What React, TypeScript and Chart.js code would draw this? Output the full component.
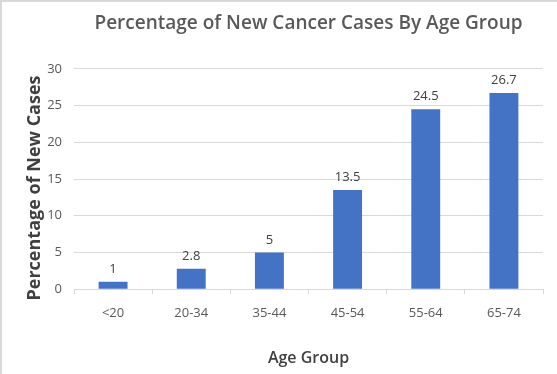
import React, { useEffect, useRef } from "react";
import { Chart, registerables } from "chart.js";

Chart.register(...registerables);

const categories = ["<20", "20-34", "35-44", "45-54", "55-64", "65-74"];
const values = [1, 2.8, 5, 13.5, 24.5, 26.7];
const yTicks = [0, 5, 10, 15, 20, 25, 30];
const yTitle = "Percentage of New Cases";

const FONT = "'Open Sans', 'DejaVu Sans', sans-serif";

const valueLabels = {
  id: "valueLabels",
  afterDatasetsDraw(chart: any) {
    const ctx = chart.ctx;
    const meta = chart.getDatasetMeta(0);
    ctx.save();
    ctx.font = `13px ${FONT}`;
    ctx.fillStyle = "#404040";
    ctx.textAlign = "center";
    ctx.textBaseline = "bottom";
    meta.data.forEach((bar: any, i: number) => {
      ctx.fillText(String(values[i]), bar.x, bar.y - 6);
    });
    ctx.restore();
  },
};

const yTitlePlugin = {
  id: "yTitlePlugin",
  afterDraw(chart: any) {
    const ctx = chart.ctx;
    const area = chart.chartArea;
    ctx.save();
    ctx.translate(33, (area.top + area.bottom) / 2 + 9);
    ctx.rotate(-Math.PI / 2);
    ctx.font = `bold 18px ${FONT}`;
    ctx.fillStyle = "#404040";
    ctx.textAlign = "center";
    ctx.textBaseline = "middle";
    ctx.fillText(yTitle, 0, 0);
    ctx.restore();
  },
};

export default function App() {
  const ref = useRef<HTMLCanvasElement>(null);
  useEffect(() => {
    document.body.style.margin = "0";
    const chart = new Chart(ref.current!, {
      type: "bar",
      data: {
        labels: categories,
        datasets: [
          {
            data: values,
            backgroundColor: "#4472c4",
            categoryPercentage: 1,
            barPercentage: 0.37,
          },
        ],
      },
      options: {
        animation: false,
        responsive: false,
        layout: { padding: { left: 44, right: 14, top: 10, bottom: 6 } },
        plugins: {
          legend: { display: false },
          tooltip: { enabled: false },
          title: {
            display: true,
            fullSize: false,
            text: "Percentage of New Cancer Cases By Age Group",
            color: "#595959",
            font: { family: FONT, size: 19, weight: "600" },
            padding: { top: 0, bottom: 34 },
          },
        },
        scales: {
          x: {
            grid: {
              display: true,
              drawOnChartArea: false,
              drawTicks: true,
              tickLength: 5,
              offset: true,
              color: "#d9d9d9",
            },
            border: { color: "#d9d9d9" },
            ticks: {
              color: "#595959",
              font: { family: FONT, size: 13 },
              padding: 11,
            },
            title: {
              display: true,
              text: "Age Group",
              color: "#404040",
              font: { family: FONT, size: 16, weight: "600" },
              padding: { top: 17, bottom: 0 },
            },
          },
          y: {
            min: 0,
            max: 30,
            afterBuildTicks: (axis: any) => {
              axis.ticks = yTicks.map((v) => ({ value: v }));
            },
            afterFit: (axis: any) => {
              axis.width = 28;
            },
            grid: { color: "#d9d9d9", drawTicks: false },
            border: { display: false },
            ticks: {
              color: "#595959",
              font: { family: FONT, size: 13 },
              padding: 12,
            },
            title: { display: false },
          },
        },
      },
      plugins: [valueLabels, yTitlePlugin],
    });
    return () => chart.destroy();
  }, []);
  return (
    <div
      style={{
        width: 557,
        height: 374,
        boxSizing: "border-box",
        borderTop: "2px solid #d9d9d9",
        borderLeft: "2px solid #d9d9d9",
        background: "#fff",
      }}
    >
      <canvas ref={ref} width={555} height={372} />
    </div>
  );
}
